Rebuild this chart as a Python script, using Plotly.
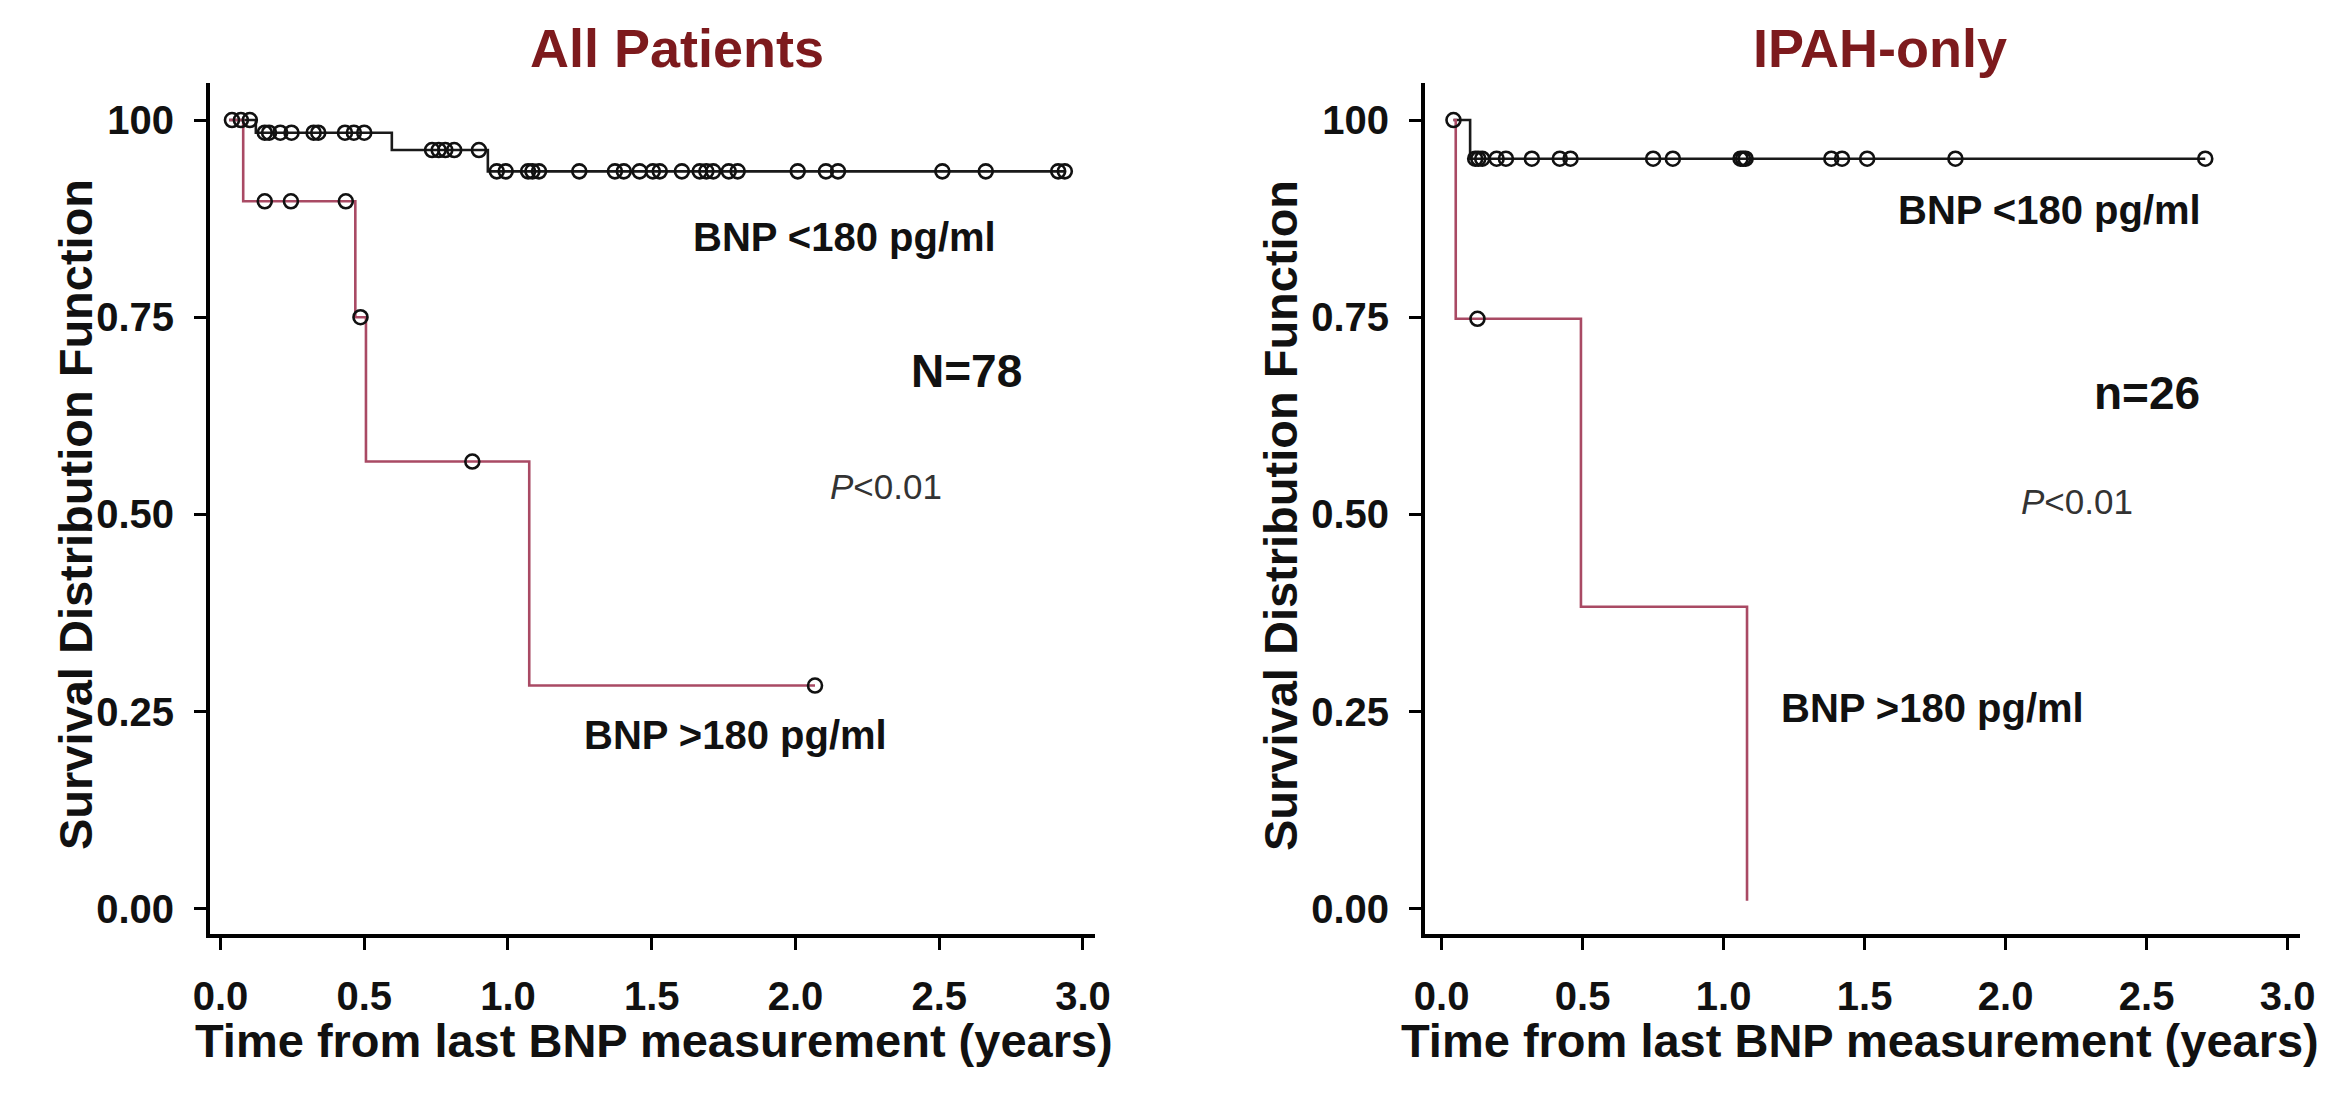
import numpy as np
import plotly.graph_objects as go

# ---------------- data ----------------
# Left panel: All Patients
all_lo_start = 0.03
all_lo_event_t = [0.123, 0.596, 0.93]
all_lo_surv = [1.0, 0.984, 0.962, 0.935]
all_lo_end = 2.94
all_lo_censor_t = [0.04, 0.071, 0.102, 0.154, 0.169, 0.208, 0.247, 0.324, 0.34,
                   0.433, 0.464, 0.5, 0.736, 0.759, 0.782, 0.813, 0.899, 0.961,
                   0.992, 1.07, 1.085, 1.108, 1.248, 1.372, 1.403, 1.458, 1.504,
                   1.528, 1.605, 1.667, 1.69, 1.714, 1.768, 1.799, 2.008, 2.106,
                   2.148, 2.511, 2.662, 2.914, 2.937]

all_hi_start = 0.03
all_hi_event_t = [0.079, 0.469, 0.506, 1.074]
all_hi_surv = [1.0, 0.897, 0.75, 0.567, 0.283]
all_hi_end = 2.068
all_hi_censor_t = [0.154, 0.245, 0.436, 0.487, 0.876, 2.068]

# Right panel: IPAH-only
ipah_lo_start = 0.042
ipah_lo_event_t = [0.101]
ipah_lo_surv = [1.0, 0.951]
ipah_lo_end = 2.708
ipah_lo_censor_t = [0.042, 0.119, 0.13, 0.144, 0.195, 0.228, 0.32, 0.419, 0.457,
                    0.75, 0.82, 1.06, 1.069, 1.078, 1.382, 1.42, 1.509, 1.822, 2.708]

ipah_hi_start = 0.042
ipah_hi_event_t = [0.05, 0.494, 1.083]
ipah_hi_surv = [1.0, 0.748, 0.383, 0.01]
ipah_hi_end = 1.083
ipah_hi_censor_t = [0.127]

x_tick_vals = [0, 0.5, 1.0, 1.5, 2.0, 2.5, 3.0]
x_tick_text = ["0.0", "0.5", "1.0", "1.5", "2.0", "2.5", "3.0"]
y_tick_vals = [0, 0.25, 0.5, 0.75, 1.0]
y_tick_text = ["0.00", "0.25", "0.50", "0.75", "100"]

panel_titles = ["All Patients", "IPAH-only"]
n_labels = ["N=78", "n=26"]
x_title = "Time from last BNP measurement (years)"
y_title = "Survival Distribution Function"

BLACK = "#1a1a1a"
RED = "#a94a64"
FONT = "Liberation Sans, Arial, sans-serif"
W, H, OFF = 2342, 1114, 8  # page body margin offset


def px_x(X):
    return (X - OFF) / W


def px_y(Y):
    return 1 - (Y - OFF) / H


def step_xy(start, event_t, surv, end):
    xs = [start] + list(event_t) + [end]
    ys = list(surv) + [surv[-1]]
    return xs, ys


def level_at(t, start, event_t, surv):
    idx = np.searchsorted(np.array(event_t), np.array(t), side="right")
    return [surv[i] for i in idx]


fig = go.Figure()

curves = [
    ("x", "y", all_lo_start, all_lo_event_t, all_lo_surv, all_lo_end, all_lo_censor_t, BLACK),
    ("x", "y", all_hi_start, all_hi_event_t, all_hi_surv, all_hi_end, all_hi_censor_t, RED),
    ("x2", "y2", ipah_lo_start, ipah_lo_event_t, ipah_lo_surv, ipah_lo_end, ipah_lo_censor_t, BLACK),
    ("x2", "y2", ipah_hi_start, ipah_hi_event_t, ipah_hi_surv, ipah_hi_end, ipah_hi_censor_t, RED),
]

for xa, ya, st, ev, sv, en, cens, col in curves:
    xs, ys = step_xy(st, ev, sv, en)
    fig.add_trace(go.Scatter(x=xs, y=ys, xaxis=xa, yaxis=ya, mode="lines",
                             line=dict(color=col, width=2.6, shape="hv"),
                             showlegend=False, hoverinfo="skip"))
for xa, ya, st, ev, sv, en, cens, col in curves:
    fig.add_trace(go.Scatter(x=cens, y=level_at(cens, st, ev, sv), xaxis=xa, yaxis=ya,
                             mode="markers",
                             marker=dict(symbol="circle-open", size=14, color="#111111",
                                         line=dict(color="#111111", width=2.6)),
                             showlegend=False, hoverinfo="skip"))

axis_common = dict(showline=True, linecolor="black", linewidth=4, ticks="outside",
                   ticklen=12, tickwidth=3, tickcolor="black", showgrid=False,
                   zeroline=False, automargin=False,
                   tickfont=dict(family=FONT, size=40, color="#111", weight="bold"),
                   ticklabelstandoff=12)

fig.update_layout(
    template="none",
    width=W, height=H,
    margin=dict(l=0, r=0, t=0, b=0),
    paper_bgcolor="white", plot_bgcolor="white",
    xaxis=dict(domain=[px_x(210), px_x(1095)], range=[-0.0365, 3.042], anchor="y",
               tickvals=x_tick_vals, ticktext=x_tick_text, **axis_common),
    yaxis=dict(domain=[px_y(934), px_y(83)], range=[-0.032, 1.047], anchor="x",
               tickvals=y_tick_vals, ticktext=y_tick_text, **axis_common),
    xaxis2=dict(domain=[px_x(1425), px_x(2300)], range=[-0.059, 3.044], anchor="y2",
                tickvals=x_tick_vals, ticktext=x_tick_text, **axis_common),
    yaxis2=dict(domain=[px_y(934), px_y(83)], range=[-0.032, 1.047], anchor="x2",
                tickvals=y_tick_vals, ticktext=y_tick_text, **axis_common),
)

ann = []
# titles
for txt, xc in zip(panel_titles, [677, 1880]):
    ann.append(dict(text=f"<b>{txt}</b>", x=px_x(xc), y=px_y(48), xref="paper", yref="paper",
                    showarrow=False, font=dict(family=FONT, size=54, color="#7d1a1d"),
                    xanchor="center", yanchor="middle"))
# axis titles
for xc in [654, 1860]:
    ann.append(dict(text=f"<b>{x_title}</b>", x=px_x(xc), y=px_y(1040), xref="paper",
                    yref="paper", showarrow=False, font=dict(family=FONT, size=47, color="#111"),
                    xanchor="center", yanchor="middle"))
for xc in [76, 1281]:
    ann.append(dict(text=f"<b>{y_title}</b>", x=px_x(xc), y=px_y(515), xref="paper",
                    yref="paper", showarrow=False, textangle=-90,
                    font=dict(family=FONT, size=47, color="#111"),
                    xanchor="center", yanchor="middle"))

# in-panel labels
panel_labels = [
    ("x", "y", 2.172, 0.852, 2.596, 0.682, 2.315, 0.535, 1.791, 0.220, n_labels[0]),
    ("x2", "y2", 2.154, 0.886, 2.50, 0.654, 2.254, 0.516, 1.739, 0.255, n_labels[1]),
]
for xa, ya, lx, ly, nx, ny, px, py, hx, hy, nl in panel_labels:
    ann.append(dict(text="<b>BNP &lt;180 pg/ml</b>", x=lx, y=ly, xref=xa, yref=ya, showarrow=False,
                    font=dict(family=FONT, size=40, color="#111")))
    ann.append(dict(text=f"<b>{nl}</b>", x=nx, y=ny, xref=xa, yref=ya, showarrow=False,
                    font=dict(family=FONT, size=46, color="#111")))
    ann.append(dict(text="<i>P</i>&lt;0.01", x=px, y=py, xref=xa, yref=ya, showarrow=False,
                    font=dict(family=FONT, size=35, color="#333")))
    ann.append(dict(text="<b>BNP &gt;180 pg/ml</b>", x=hx, y=hy, xref=xa, yref=ya, showarrow=False,
                    font=dict(family=FONT, size=40, color="#111")))

fig.update_layout(annotations=ann)
fig.write_html("out.html")
